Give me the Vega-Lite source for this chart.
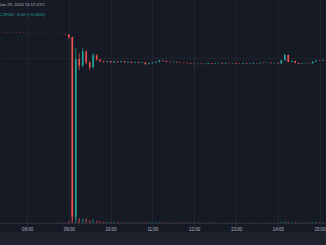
{
  "$schema": "https://vega.github.io/schema/vega-lite/v6.json",
  "width": 326,
  "height": 232,
  "autosize": {"type": "none"},
  "padding": {"left": 0, "top": 0, "right": 0, "bottom": 13},
  "background": "#1e222d",
  "view": {"fill": "#161a25", "stroke": null},
  "title": {
    "text": "Jan 23, 2024 15:12 UTC",
    "subtitle": "C29.60 −0.02 (−0.04%)",
    "anchor": "start", "orient": "top",
    "offset": -16, "dx": 1,
    "fontSize": 4.2, "subtitleFontSize": 4.4,
    "fontWeight": "normal", "color": "#b2b5be", "subtitleColor": "#26a69a",
    "subtitlePadding": 5
  },
  "data": {"values": [
    {"t": "2024-01-23T07:20", "o": 34.76, "h": 34.78, "l": 34.72, "c": 34.73, "v": 2},
    {"t": "2024-01-23T07:25", "o": 34.73, "h": 34.75, "l": 34.70, "c": 34.71, "v": 1},
    {"t": "2024-01-23T07:30", "o": 34.71, "h": 34.73, "l": 34.68, "c": 34.70, "v": 1},
    {"t": "2024-01-23T07:35", "o": 34.70, "h": 34.71, "l": 34.66, "c": 34.67, "v": 1},
    {"t": "2024-01-23T07:40", "o": 34.67, "h": 34.69, "l": 34.64, "c": 34.66, "v": 1},
    {"t": "2024-01-23T07:45", "o": 34.66, "h": 34.67, "l": 34.62, "c": 34.63, "v": 1},
    {"t": "2024-01-23T07:50", "o": 34.63, "h": 34.65, "l": 34.60, "c": 34.61, "v": 1},
    {"t": "2024-01-23T07:55", "o": 34.61, "h": 34.63, "l": 34.58, "c": 34.60, "v": 1},
    {"t": "2024-01-23T08:00", "o": 34.60, "h": 34.61, "l": 34.56, "c": 34.57, "v": 2},
    {"t": "2024-01-23T08:05", "o": 34.57, "h": 34.58, "l": 34.53, "c": 34.55, "v": 1},
    {"t": "2024-01-23T08:10", "o": 34.55, "h": 34.56, "l": 34.51, "c": 34.52, "v": 1},
    {"t": "2024-01-23T08:15", "o": 34.52, "h": 34.54, "l": 34.49, "c": 34.51, "v": 1},
    {"t": "2024-01-23T08:20", "o": 34.51, "h": 34.52, "l": 34.47, "c": 34.48, "v": 1},
    {"t": "2024-01-23T08:25", "o": 34.48, "h": 34.50, "l": 34.45, "c": 34.47, "v": 1},
    {"t": "2024-01-23T08:30", "o": 34.47, "h": 34.48, "l": 34.43, "c": 34.44, "v": 1},
    {"t": "2024-01-23T08:35", "o": 34.44, "h": 34.46, "l": 34.41, "c": 34.43, "v": 1},
    {"t": "2024-01-23T08:40", "o": 34.43, "h": 34.44, "l": 34.39, "c": 34.40, "v": 1},
    {"t": "2024-01-23T08:45", "o": 34.40, "h": 34.42, "l": 34.37, "c": 34.38, "v": 2},
    {"t": "2024-01-23T08:50", "o": 34.38, "h": 34.39, "l": 34.33, "c": 34.35, "v": 2},
    {"t": "2024-01-23T08:55", "o": 34.35, "h": 34.36, "l": 34.25, "c": 34.28, "v": 3},
    {"t": "2024-01-23T09:00", "o": 34.28, "h": 34.30, "l": 33.40, "c": 33.80, "v": 8},
    {"t": "2024-01-23T09:05", "o": 33.80, "h": 33.90, "l": 0.45, "c": 1.20, "v": 95},
    {"t": "2024-01-23T09:10", "o": 1.20, "h": 31.80, "l": 0.60, "c": 29.80, "v": 100},
    {"t": "2024-01-23T09:15", "o": 29.80, "h": 30.90, "l": 27.80, "c": 28.60, "v": 22},
    {"t": "2024-01-23T09:20", "o": 28.60, "h": 31.80, "l": 28.40, "c": 31.20, "v": 18},
    {"t": "2024-01-23T09:25", "o": 31.20, "h": 31.40, "l": 28.90, "c": 29.20, "v": 20},
    {"t": "2024-01-23T09:30", "o": 29.20, "h": 29.40, "l": 27.80, "c": 28.30, "v": 12},
    {"t": "2024-01-23T09:35", "o": 28.30, "h": 30.90, "l": 28.10, "c": 30.50, "v": 15},
    {"t": "2024-01-23T09:40", "o": 30.50, "h": 30.70, "l": 29.50, "c": 29.70, "v": 10},
    {"t": "2024-01-23T09:45", "o": 29.70, "h": 29.85, "l": 29.30, "c": 29.40, "v": 8},
    {"t": "2024-01-23T09:50", "o": 29.40, "h": 29.55, "l": 29.15, "c": 29.30, "v": 6},
    {"t": "2024-01-23T09:55", "o": 29.30, "h": 29.50, "l": 29.20, "c": 29.42, "v": 5},
    {"t": "2024-01-23T10:00", "o": 29.42, "h": 29.50, "l": 29.15, "c": 29.20, "v": 5},
    {"t": "2024-01-23T10:05", "o": 29.20, "h": 29.40, "l": 29.15, "c": 29.35, "v": 4},
    {"t": "2024-01-23T10:10", "o": 29.35, "h": 29.40, "l": 29.18, "c": 29.25, "v": 4},
    {"t": "2024-01-23T10:15", "o": 29.25, "h": 29.45, "l": 29.20, "c": 29.40, "v": 3},
    {"t": "2024-01-23T10:20", "o": 29.40, "h": 29.45, "l": 29.15, "c": 29.20, "v": 3},
    {"t": "2024-01-23T10:25", "o": 29.20, "h": 29.35, "l": 29.15, "c": 29.30, "v": 3},
    {"t": "2024-01-23T10:30", "o": 29.30, "h": 29.35, "l": 29.10, "c": 29.15, "v": 3},
    {"t": "2024-01-23T10:35", "o": 29.15, "h": 29.30, "l": 29.10, "c": 29.25, "v": 2},
    {"t": "2024-01-23T10:40", "o": 29.25, "h": 29.30, "l": 29.05, "c": 29.10, "v": 3},
    {"t": "2024-01-23T10:45", "o": 29.10, "h": 29.25, "l": 29.05, "c": 29.20, "v": 3},
    {"t": "2024-01-23T10:50", "o": 29.20, "h": 29.25, "l": 28.75, "c": 28.90, "v": 5},
    {"t": "2024-01-23T10:55", "o": 28.90, "h": 29.10, "l": 28.80, "c": 29.05, "v": 4},
    {"t": "2024-01-23T11:00", "o": 29.05, "h": 29.25, "l": 29.00, "c": 29.20, "v": 3},
    {"t": "2024-01-23T11:05", "o": 29.20, "h": 29.35, "l": 29.15, "c": 29.30, "v": 3},
    {"t": "2024-01-23T11:10", "o": 29.30, "h": 29.68, "l": 29.25, "c": 29.55, "v": 4},
    {"t": "2024-01-23T11:15", "o": 29.55, "h": 29.65, "l": 29.40, "c": 29.45, "v": 3},
    {"t": "2024-01-23T11:20", "o": 29.45, "h": 29.50, "l": 29.25, "c": 29.30, "v": 2},
    {"t": "2024-01-23T11:25", "o": 29.30, "h": 29.35, "l": 29.20, "c": 29.25, "v": 2},
    {"t": "2024-01-23T11:30", "o": 29.25, "h": 29.35, "l": 29.20, "c": 29.30, "v": 2},
    {"t": "2024-01-23T11:35", "o": 29.30, "h": 29.32, "l": 29.15, "c": 29.20, "v": 2},
    {"t": "2024-01-23T11:40", "o": 29.20, "h": 29.25, "l": 29.10, "c": 29.15, "v": 2},
    {"t": "2024-01-23T11:45", "o": 29.15, "h": 29.20, "l": 29.05, "c": 29.10, "v": 2},
    {"t": "2024-01-23T11:50", "o": 29.10, "h": 29.15, "l": 29.00, "c": 29.05, "v": 2},
    {"t": "2024-01-23T11:55", "o": 29.05, "h": 29.10, "l": 28.92, "c": 28.95, "v": 2},
    {"t": "2024-01-23T12:00", "o": 28.95, "h": 29.00, "l": 28.85, "c": 28.90, "v": 2},
    {"t": "2024-01-23T12:05", "o": 28.90, "h": 29.00, "l": 28.85, "c": 28.95, "v": 2},
    {"t": "2024-01-23T12:10", "o": 28.95, "h": 29.00, "l": 28.85, "c": 28.90, "v": 1},
    {"t": "2024-01-23T12:15", "o": 28.90, "h": 29.00, "l": 28.85, "c": 28.95, "v": 1},
    {"t": "2024-01-23T12:20", "o": 28.95, "h": 29.10, "l": 28.90, "c": 29.05, "v": 2},
    {"t": "2024-01-23T12:25", "o": 29.05, "h": 29.10, "l": 28.90, "c": 28.95, "v": 2},
    {"t": "2024-01-23T12:30", "o": 28.95, "h": 29.10, "l": 28.90, "c": 29.05, "v": 2},
    {"t": "2024-01-23T12:35", "o": 29.05, "h": 29.15, "l": 29.00, "c": 29.10, "v": 1},
    {"t": "2024-01-23T12:40", "o": 29.10, "h": 29.12, "l": 28.95, "c": 29.00, "v": 1},
    {"t": "2024-01-23T12:45", "o": 29.00, "h": 29.15, "l": 28.95, "c": 29.10, "v": 2},
    {"t": "2024-01-23T12:50", "o": 29.10, "h": 29.15, "l": 29.00, "c": 29.05, "v": 1},
    {"t": "2024-01-23T12:55", "o": 29.05, "h": 29.15, "l": 29.00, "c": 29.10, "v": 1},
    {"t": "2024-01-23T13:00", "o": 29.10, "h": 29.12, "l": 28.95, "c": 29.00, "v": 2},
    {"t": "2024-01-23T13:05", "o": 29.00, "h": 29.05, "l": 28.90, "c": 28.95, "v": 1},
    {"t": "2024-01-23T13:10", "o": 28.95, "h": 29.10, "l": 28.90, "c": 29.05, "v": 1},
    {"t": "2024-01-23T13:15", "o": 29.05, "h": 29.08, "l": 28.90, "c": 28.95, "v": 1},
    {"t": "2024-01-23T13:20", "o": 28.95, "h": 29.05, "l": 28.90, "c": 29.00, "v": 1},
    {"t": "2024-01-23T13:25", "o": 29.00, "h": 29.15, "l": 28.95, "c": 29.10, "v": 2},
    {"t": "2024-01-23T13:30", "o": 29.10, "h": 29.12, "l": 29.00, "c": 29.05, "v": 1},
    {"t": "2024-01-23T13:35", "o": 29.05, "h": 29.20, "l": 29.00, "c": 29.15, "v": 1},
    {"t": "2024-01-23T13:40", "o": 29.15, "h": 29.18, "l": 29.05, "c": 29.10, "v": 1},
    {"t": "2024-01-23T13:45", "o": 29.10, "h": 29.20, "l": 29.05, "c": 29.15, "v": 1},
    {"t": "2024-01-23T13:50", "o": 29.15, "h": 29.18, "l": 29.00, "c": 29.05, "v": 2},
    {"t": "2024-01-23T13:55", "o": 29.05, "h": 29.15, "l": 29.00, "c": 29.10, "v": 1},
    {"t": "2024-01-23T14:00", "o": 29.10, "h": 29.12, "l": 28.95, "c": 29.00, "v": 2},
    {"t": "2024-01-23T14:05", "o": 29.00, "h": 29.70, "l": 28.95, "c": 29.60, "v": 6},
    {"t": "2024-01-23T14:10", "o": 29.60, "h": 30.75, "l": 29.50, "c": 30.55, "v": 6},
    {"t": "2024-01-23T14:15", "o": 30.55, "h": 30.60, "l": 29.20, "c": 29.30, "v": 5},
    {"t": "2024-01-23T14:20", "o": 29.30, "h": 29.55, "l": 29.25, "c": 29.45, "v": 3},
    {"t": "2024-01-23T14:25", "o": 29.45, "h": 29.50, "l": 29.05, "c": 29.10, "v": 3},
    {"t": "2024-01-23T14:30", "o": 29.10, "h": 29.15, "l": 28.90, "c": 28.95, "v": 2},
    {"t": "2024-01-23T14:35", "o": 28.95, "h": 29.10, "l": 28.90, "c": 29.05, "v": 2},
    {"t": "2024-01-23T14:40", "o": 29.05, "h": 29.15, "l": 29.00, "c": 29.10, "v": 2},
    {"t": "2024-01-23T14:45", "o": 29.10, "h": 29.15, "l": 29.00, "c": 29.05, "v": 2},
    {"t": "2024-01-23T14:50", "o": 29.05, "h": 29.40, "l": 29.00, "c": 29.35, "v": 4},
    {"t": "2024-01-23T14:55", "o": 29.35, "h": 29.60, "l": 29.30, "c": 29.55, "v": 4},
    {"t": "2024-01-23T15:00", "o": 29.55, "h": 29.65, "l": 29.45, "c": 29.50, "v": 3},
    {"t": "2024-01-23T15:05", "o": 29.50, "h": 29.68, "l": 29.45, "c": 29.60, "v": 3}
  ]},
  "encoding": {
    "x": {
      "field": "t", "type": "temporal",
      "scale": {"domain": [
        {"year": 2024, "month": 1, "date": 23, "hours": 7, "minutes": 21, "seconds": 15},
        {"year": 2024, "month": 1, "date": 23, "hours": 15, "minutes": 9, "seconds": 10}
      ]},
      "axis": {
        "title": null, "format": "%H:%M",
        "offset": -9, "ticks": false, "labelPadding": 3,
        "labelFontSize": 4.5, "labelColor": "#b2b5be",
        "domainColor": "#2a2e39",
        "grid": true, "gridColor": "#1f2330"
      }
    },
    "color": {
      "condition": {"test": "datum.c >= datum.o", "value": "#26a69a"},
      "value": "#ef5350"
    }
  },
  "layer": [
    {
      "mark": {"type": "rule", "strokeWidth": 1.6, "opacity": 0.5},
      "encoding": {
        "y": {"field": "v", "type": "quantitative",
          "scale": {"domain": [-39.1, 969.6], "nice": false, "zero": false}, "axis": null},
        "y2": {"datum": 0}
      }
    },
    {
      "layer": [
        {
          "mark": {"type": "rule", "strokeWidth": 0.7},
          "encoding": {
            "y": {"field": "l", "type": "quantitative",
              "scale": {"domain": [-1.636, 40.545], "nice": false, "zero": false},
              "axis": {"title": null, "labels": false, "ticks": false, "domain": false,
                       "grid": true, "values": [30], "gridColor": "#1f2330"}},
            "y2": {"field": "h"}
          }
        },
        {
          "mark": {"type": "rule", "strokeWidth": 1.6},
          "encoding": {
            "y": {"field": "o", "type": "quantitative"},
            "y2": {"field": "c"}
          }
        }
      ]
    }
  ],
  "resolve": {"scale": {"y": "independent"}}
}
